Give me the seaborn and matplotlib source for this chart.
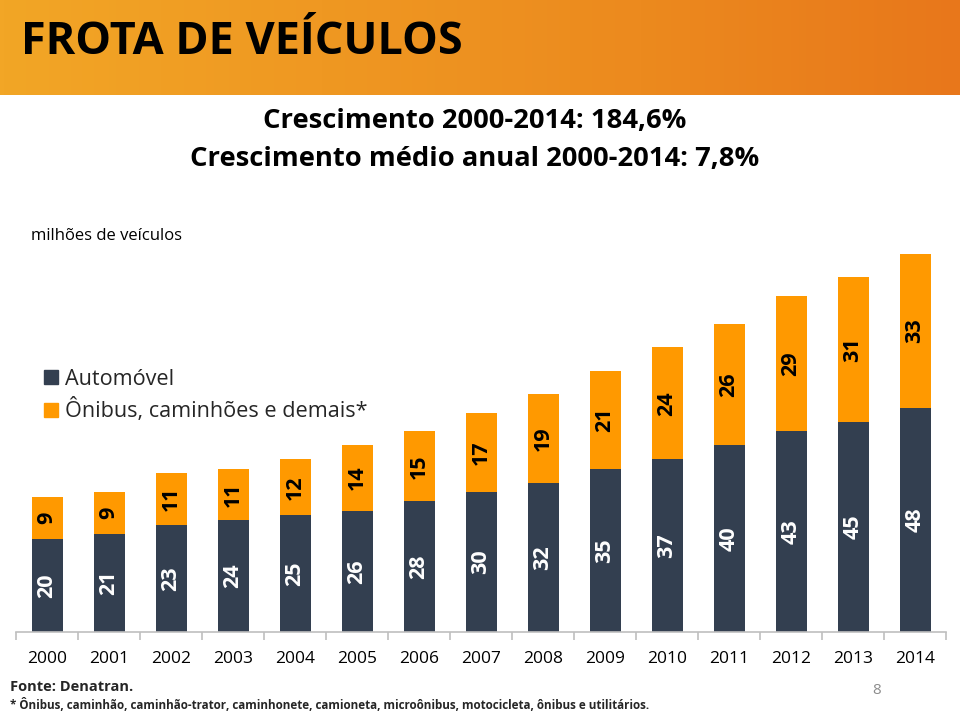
import numpy as np
import pandas as pd
import matplotlib
matplotlib.use("Agg")
import matplotlib.pyplot as plt
import seaborn as sns
from matplotlib.lines import Line2D
from matplotlib.colors import LinearSegmentedColormap

years = ["2000", "2001", "2002", "2003", "2004", "2005", "2006", "2007",
         "2008", "2009", "2010", "2011", "2012", "2013", "2014"]
automovel = [20, 21, 23, 24, 25, 26, 28, 30, 32, 35, 37, 40, 43, 45, 48]
demais = [9, 9, 11, 11, 12, 14, 15, 17, 19, 21, 24, 26, 29, 31, 33]
series_names = ["Automóvel", "Ônibus, caminhões e demais*"]

NAVY = "#333F50"
ORANGE = "#FF9900"

sns.set_theme(style="white")
FONT = ["Open Sans", "DejaVu Sans"]
plt.rcParams["font.family"] = FONT

W, H = 960, 714
fig = plt.figure(figsize=(W / 100, H / 100), dpi=100)

# header band with gradient
hax = fig.add_axes([0, 1 - 95 / H, 1, 95 / H])
cmap = LinearSegmentedColormap.from_list("hdr", ["#F2A626", "#EF9822", "#EC8A1E", "#E8771B"])
hax.imshow(np.linspace(0, 1, 256)[None, :], aspect="auto", cmap=cmap, extent=[0, 1, 0, 1])
hax.set_axis_off()
fig.text(21 / W, 1 - 43 / H, "FROTA DE VEÍCULOS", fontsize=32.4, fontweight="bold",
         color="black", ha="left", va="center")

# subtitles
fig.text(475 / W, 1 - 121 / H, "Crescimento 2000-2014: 184,6%", fontsize=19.7,
         fontweight="bold", color="black", ha="center", va="center")
fig.text(475 / W, 1 - 159 / H, "Crescimento médio anual 2000-2014: 7,8%", fontsize=19.7,
         fontweight="bold", color="black", ha="center", va="center")
fig.text(31 / W, 1 - 236 / H, "milhões de veículos", fontsize=12, color="black",
         ha="left", va="center")

# main axes
ymax = 85
px_per_unit = (632 - 254) / 81
top_px = 632 - ymax * px_per_unit
ax = fig.add_axes([16 / W, (H - 632) / H, 930 / W, (632 - top_px) / H])

totals = [a + d for a, d in zip(automovel, demais)]
df = pd.DataFrame({"ano": years, "automovel": automovel, "demais": demais, "total": totals})

sns.barplot(data=df, x="ano", y="total", color=ORANGE, saturation=1, width=0.5,
            linewidth=0, ax=ax)
sns.barplot(data=df, x="ano", y="automovel", color=NAVY, saturation=1, width=0.5,
            linewidth=0, ax=ax)

for i, (a, d) in enumerate(zip(automovel, demais)):
    ax.text(i, a / 2, f"{a}", rotation=90, ha="center", va="center", color="white",
            fontsize=15.5, fontweight="bold")
    ax.text(i, a + d / 2, f"{d}", rotation=90, ha="center", va="center", color="black",
            fontsize=15.5, fontweight="bold")

ax.set_xlim(-0.5, len(years) - 0.5)
ax.set_ylim(0, ymax)
ax.set_xlabel("")
ax.set_ylabel("")
ax.set_yticks([])
for s in ["top", "right", "left"]:
    ax.spines[s].set_visible(False)
ax.spines["bottom"].set_color("#BFBFBF")
ax.spines["bottom"].set_linewidth(1.2)
ax.set_xticks(range(len(years)))
ax.set_xticklabels(years, fontsize=12.5, color="black")
ax.tick_params(axis="x", which="major", length=0, pad=14)
ax.set_xticks(np.arange(-0.5, len(years), 1.0), minor=True)
ax.tick_params(axis="x", which="minor", length=6, width=1.2, color="#BFBFBF", bottom=True)
ax.set_facecolor("white")

# legend
handles = [Line2D([0], [0], marker="s", linestyle="", markersize=10, markerfacecolor=NAVY,
                  markeredgecolor=NAVY),
           Line2D([0], [0], marker="s", linestyle="", markersize=10, markerfacecolor=ORANGE,
                  markeredgecolor=ORANGE)]
fig.legend(handles, series_names, loc="upper left", bbox_to_anchor=(40 / W, 1 - 369 / H),
           frameon=False, fontsize=15.6, handletextpad=0.15, labelspacing=0.38,
           handlelength=1.0, borderaxespad=0, borderpad=0)

# footer
fig.text(10 / W, 1 - 687 / H, "Fonte: Denatran.", fontsize=10.5, fontweight="bold",
         ha="left", va="center")
fig.text(10 / W, 1 - 705 / H,
         "* Ônibus, caminhão, caminhão-trator, caminhonete, camioneta, microônibus, motocicleta, ônibus e utilitários.",
         fontsize=8.4, fontweight="bold", ha="left", va="center")
fig.text(877 / W, 1 - 690 / H, "8", fontsize=11, color="#8C8C8C", ha="center", va="center")

fig.savefig("out.png", dpi=100)
